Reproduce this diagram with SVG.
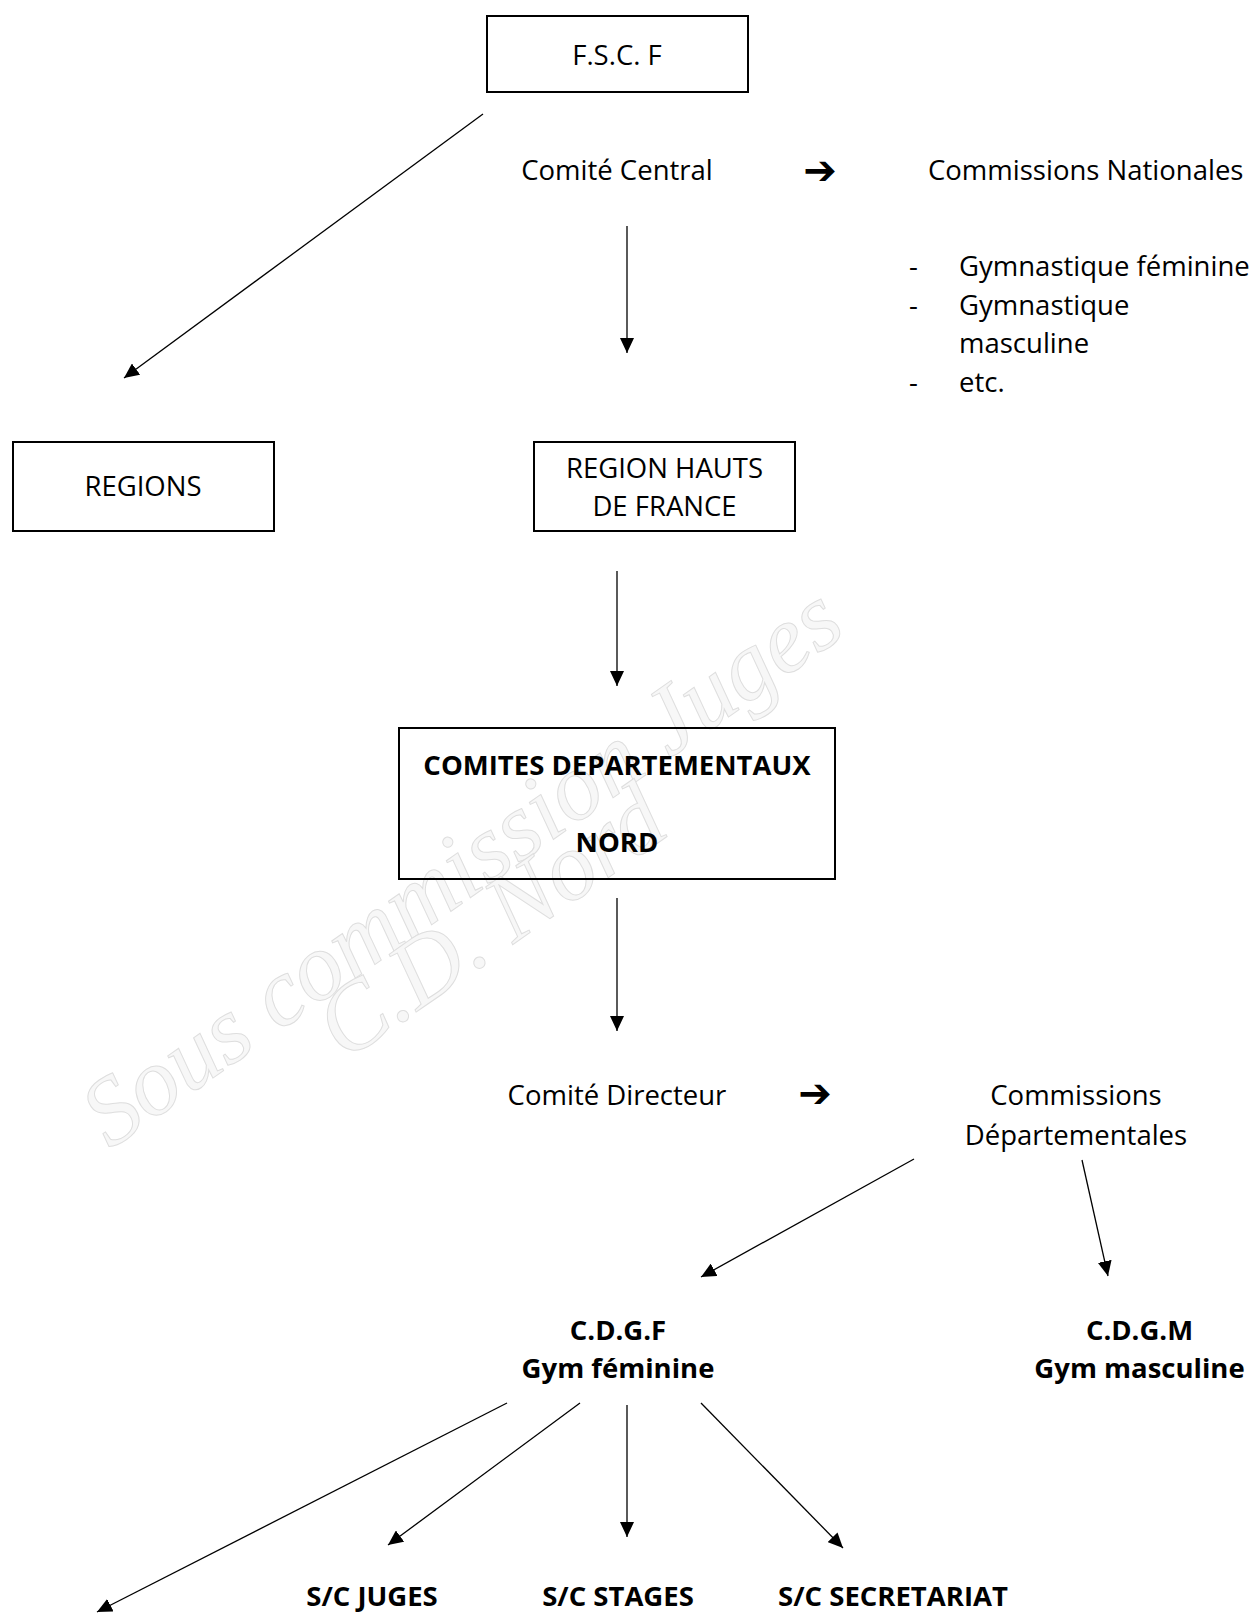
<svg xmlns="http://www.w3.org/2000/svg" width="1258" height="1615" viewBox="0 0 1258 1615">
<defs>
<marker id="ah" markerUnits="userSpaceOnUse" markerWidth="16" markerHeight="14" refX="15" refY="7" orient="auto">
<path d="M0,0 L15,7 L0,14 Z" fill="#000"/>
</marker>
<style>
.box{fill:none;stroke:#000;stroke-width:2}
.t{font-family:"Open Sans","Liberation Sans",sans-serif;font-size:27.5px;fill:#000}
.c{text-anchor:middle}
.b{font-weight:700}
.sym{font-family:"DejaVu Sans",sans-serif;font-size:40px;font-weight:700;fill:#000;text-anchor:middle}
.con line{stroke:#000;stroke-width:1.3;marker-end:url(#ah)}
.wm{font-family:"Liberation Serif",serif;font-style:italic;font-size:96px;fill:#f7f7f7;stroke:#dedede;stroke-width:1}
</style>
</defs>
<rect width="1258" height="1615" fill="#fff"/>
<g id="watermark">
<text class="wm" transform="translate(110,1150) rotate(-35)">Sous commission Juges</text>
<text class="wm" transform="translate(345,1062) rotate(-35)">C.D. Nord</text>
</g>
<g id="fscf"><rect class="box" x="487" y="16" width="261" height="76"/><text class="t c" x="617" y="65">F.S.C. F</text></g>
<g id="comite-central"><text class="t c" x="617" y="180">Comité Central</text><text class="sym" x="820" y="184">➔</text></g>
<g id="commissions-nationales"><text class="t" x="928" y="180">Commissions Nationales</text>
<text class="t" x="909" y="276">-</text><text class="t" x="959" y="276">Gymnastique féminine</text>
<text class="t" x="909" y="315">-</text><text class="t" x="959" y="315">Gymnastique</text>
<text class="t" x="959" y="353">masculine</text>
<text class="t" x="909" y="392">-</text><text class="t" x="959" y="392">etc.</text></g>
<g id="regions"><rect class="box" x="13" y="442" width="261" height="89"/><text class="t c" x="143" y="496">REGIONS</text></g>
<g id="region-hdf"><rect class="box" x="534" y="442" width="261" height="89"/><text class="t c" x="664.5" y="478">REGION HAUTS</text><text class="t c" x="664.5" y="516">DE FRANCE</text></g>
<g id="comites-dep"><rect class="box" x="399" y="728" width="436" height="151"/><text class="t c b" x="617" y="775">COMITES DEPARTEMENTAUX</text><text class="t c b" x="617" y="852">NORD</text></g>
<g id="comite-directeur"><text class="t c" x="617" y="1105">Comité Directeur</text><text class="sym" x="815" y="1107">➔</text></g>
<g id="commissions-dep"><text class="t c" x="1076" y="1105">Commissions</text><text class="t c" x="1076" y="1145">Départementales</text></g>
<g id="cdgf"><text class="t c b" x="618" y="1340">C.D.G.F</text><text class="t c b" x="618" y="1378">Gym féminine</text></g>
<g id="cdgm"><text class="t c b" x="1139.5" y="1340">C.D.G.M</text><text class="t c b" x="1139.5" y="1378">Gym masculine</text></g>
<g id="sc-juges"><text class="t c b" x="372" y="1606">S/C JUGES</text></g>
<g id="sc-stages"><text class="t c b" x="618" y="1606">S/C STAGES</text></g>
<g id="sc-secretariat"><text class="t c b" x="893" y="1606">S/C SECRETARIAT</text></g>
<g id="connectors" class="con">
<line x1="483" y1="114" x2="124" y2="378"/>
<line x1="627" y1="226" x2="627" y2="353"/>
<line x1="617" y1="571" x2="617" y2="686"/>
<line x1="617" y1="898" x2="617" y2="1031"/>
<line x1="914" y1="1159" x2="701" y2="1277"/>
<line x1="1082" y1="1160" x2="1108" y2="1276"/>
<line x1="507" y1="1403" x2="97" y2="1612"/>
<line x1="580" y1="1403" x2="388" y2="1545"/>
<line x1="627" y1="1405" x2="627" y2="1537"/>
<line x1="701" y1="1403" x2="843" y2="1548"/>
</g>
</svg>
